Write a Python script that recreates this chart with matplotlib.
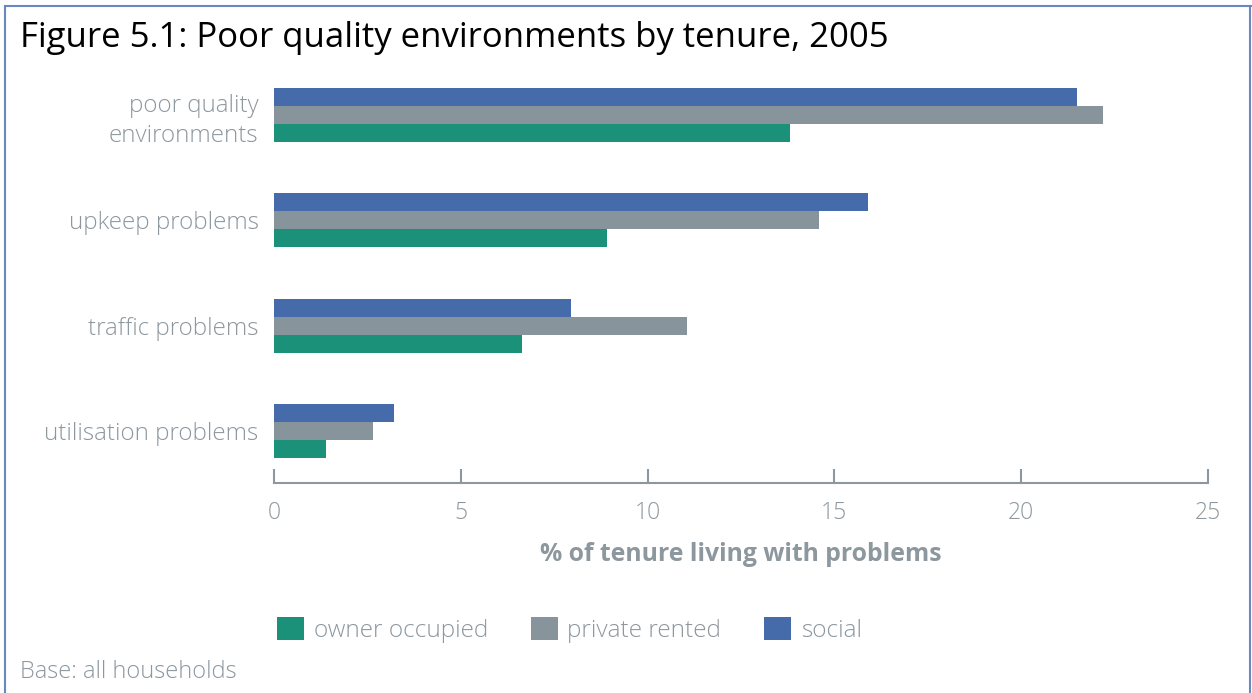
import matplotlib
matplotlib.use("Agg")
import matplotlib.pyplot as plt
import numpy as np
from matplotlib.patches import Patch
from matplotlib.lines import Line2D

# problem types, listed top to bottom
categories = ["poor quality\nenvironments", "upkeep problems", "traffic problems", "utilisation problems"]
tenures = ["owner occupied", "private rented", "social"]
owner_occupied = [13.8, 8.9, 6.65, 1.4]
private_rented = [22.2, 14.6, 11.05, 2.65]
social = [21.5, 15.9, 7.95, 3.2]

colors = {"owner occupied": "#1c917a", "private rented": "#88949b", "social": "#466baa"}
grey = "#8c979e"

plt.rcParams['font.family'] = ['Open Sans', 'DejaVu Sans']

fig = plt.figure(figsize=(12.52, 6.93), dpi=100)
ax = fig.add_axes([274/1252, 1 - 483/693, 934/1252, 420/693])

y = np.arange(len(categories))[::-1]
h = 0.17
ax.barh(y + h, social, height=h, color=colors["social"])
ax.barh(y, private_rented, height=h, color=colors["private rented"])
ax.barh(y - h, owner_occupied, height=h, color=colors["owner occupied"])

ax.set_xlim(0, 25)
ax.set_ylim(-0.49, 3.49)
ax.set_xticks([0, 5, 10, 15, 20, 25])
ax.set_yticks(y)
ax.set_yticklabels(categories, fontsize=17.4, color=grey, fontweight='light',
                   linespacing=1.35)
ax.get_yticklabels()[0].set_y(y[0] + 0.03)
ax.tick_params(axis='y', length=0, pad=11)
ax.tick_params(axis='x', direction='in', length=10, width=1.5, color=grey,
               labelsize=16.5, labelcolor=grey, pad=13)
for lab in ax.get_xticklabels():
    lab.set_fontweight('light')
for s in ["top", "right", "left"]:
    ax.spines[s].set_visible(False)
ax.spines["bottom"].set_color(grey)
ax.spines["bottom"].set_linewidth(1.5)
ax.set_xlabel("% of tenure living with problems", fontsize=17.8, color=grey,
              fontweight='bold', labelpad=12)

fig.text(20/1252, 1 - 38/693, "Figure 5.1: Poor quality environments by tenure, 2005",
         fontsize=25, color="black", va="center", ha="left")
fig.text(20/1252, 1 - 672/693, "Base: all households", fontsize=17, color=grey,
         va="center", ha="left", fontweight='light')

handles = [Patch(facecolor=colors[t]) for t in tenures]
leg = fig.legend(handles, tenures, loc="center left", bbox_to_anchor=(255/1252, 1 - 630/693),
                 ncol=3, frameon=False, fontsize=17.6, handlelength=1.1, handleheight=1.1,
                 columnspacing=1.75, handletextpad=0.4)
for t in leg.get_texts():
    t.set_color(grey)
    t.set_fontweight('light')

# frame round the figure panel
border = "#6a88c0"
fig.add_artist(Line2D([5/1252, 1251/1252], [1 - 6/693, 1 - 6/693], color=border, lw=1.5))
fig.add_artist(Line2D([5/1252, 5/1252], [0, 1 - 6/693], color=border, lw=1.5))
fig.add_artist(Line2D([1250/1252, 1250/1252], [0, 1 - 6/693], color=border, lw=1.5))

fig.savefig("out.png", dpi=100)
